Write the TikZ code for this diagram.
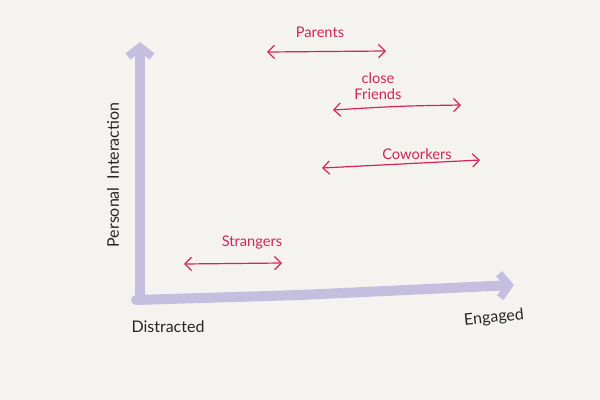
\documentclass[tikz,border=0pt]{standalone}
\usepackage{fontspec}
\setmainfont{Lato}
\usetikzlibrary{arrows.meta}

\definecolor{paper}{RGB}{245,243,240}
\definecolor{axispurple}{RGB}{196,191,222}
\definecolor{inkred}{RGB}{212,36,88}

\tikzset{
  axisline/.style={color=axispurple, line width=7.5, line cap=round,
    -{Straight Barb[length=7, width=18, line width=6]}},
  spanline/.style={color=inkred, line width=0.9,
    {Straight Barb[length=5, width=10]}-{Straight Barb[length=5, width=10]}},
  handtext/.style={color=inkred, font=\fontsize{11}{12}\selectfont, align=center},
  axistext/.style={color=black!85, font=\fontsize{12}{13}\selectfont}
}

\begin{document}
\begin{tikzpicture}[x=0.75pt,y=0.75pt,yscale=-1,xscale=1]
\fill[paper] (0,0) rectangle (600,400);
\useasboundingbox (0,0) rectangle (600,400);

%Axes
\coordinate (origin) at (140,300);
\coordinate (ytop) at (140,42);
\coordinate (xend) at (514,285);
\draw [axisline] (origin) -- (ytop);
\draw [axisline] (136,300) -- (300,295) -- (xend);

% Text Node
\node [axistext, rotate=90] (pint) at (113,175) {Personal\ \ Interaction};
% Text Node
\node [axistext] (distr) at (168,327) {Distracted};
% Text Node
\node [axistext, rotate=6] (engag) at (494,318) {Engaged};

%Parents
\node [handtext] (parents) at (320,32) {Parents};
\coordinate (pa) at (267,52);
\coordinate (pb) at (386,51);
\draw [spanline] (pa) -- (pb);

%Close friends
\node [handtext] (friends) at (378,86) {close\\Friends};
\coordinate (fa) at (333,110);
\coordinate (fb) at (461,105);
\draw [spanline] (fa) .. controls (400,106) .. (fb);

%Coworkers
\node [handtext] (cowork) at (417,154) {Coworkers};
\coordinate (ca) at (322,168);
\coordinate (cb) at (480,160);
\draw [spanline] (ca) -- (cb);

%Strangers
\node [handtext] (strang) at (252,243) {Strangers};
\coordinate (sa) at (184,264);
\coordinate (sb) at (282,263);
\draw [spanline] (sa) -- (sb);

\end{tikzpicture}
\end{document}
